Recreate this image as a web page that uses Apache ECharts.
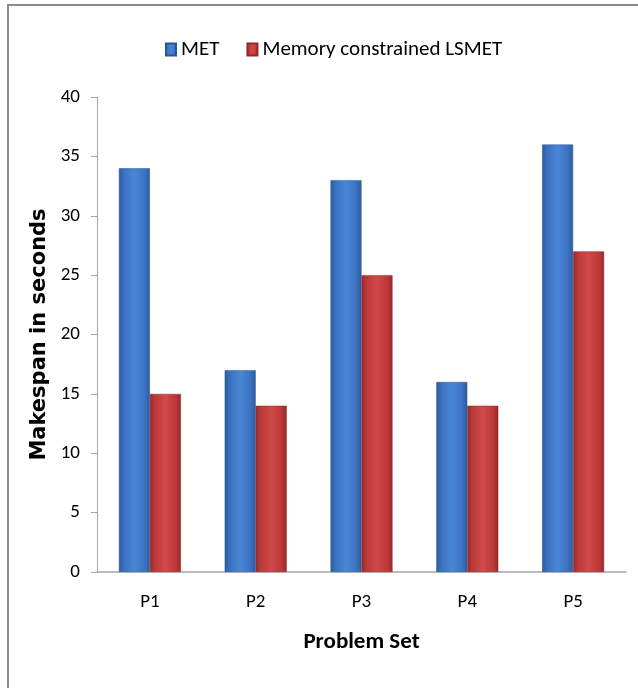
<!DOCTYPE html>
<html>
<head>
<meta charset="utf-8">
<script src="https://cdn.jsdelivr.net/npm/echarts@6/dist/echarts.min.js"></script>
<style>
html,body{margin:0;padding:0;background:#fff;}
#chart{width:638px;height:688px;}
</style>
</head>
<body>
<div id="chart"></div>
<script>
const categories = ['P1', 'P2', 'P3', 'P4', 'P5'];
const metValues = [34, 17, 33, 16, 36];
const lsmetValues = [15, 14, 25, 14, 27];
const seriesNames = ['MET', 'Memory constrained LSMET'];
const yAxisTitle = 'Makespan in seconds';
const xAxisTitle = 'Problem Set';

const FONT = 'Carlito, Lato, sans-serif';

function hGrad(edge, mid, center) {
  return new echarts.graphic.LinearGradient(0, 0, 1, 0, [
    { offset: 0, color: edge },
    { offset: 0.18, color: mid },
    { offset: 0.5, color: center },
    { offset: 0.82, color: mid },
    { offset: 1, color: edge }
  ]);
}

const chart = echarts.init(document.getElementById('chart'), null, { renderer: 'canvas' });
chart.setOption({
  backgroundColor: '#ffffff',
  animation: false,
  graphic: [{
    type: 'rect',
    shape: { x: 8, y: 5, width: 700, height: 700 },
    style: { fill: 'none', stroke: '#8a8a8a', lineWidth: 2 },
    silent: true
  }],
  legend: {
    left: 160,
    top: 34,
    icon: 'rect',
    itemWidth: 10,
    itemHeight: 12,
    itemGap: 27,
    textStyle: { fontFamily: FONT, fontSize: 21, color: '#000' },
    data: seriesNames
  },
  grid: { left: 97, right: 12, top: 97, bottom: 116 },
  xAxis: {
    type: 'category',
    data: categories,
    axisLine: { lineStyle: { color: '#a6a6a6', width: 1.5 } },
    axisTick: { show: false },
    axisLabel: { margin: 21, fontFamily: FONT, fontSize: 19, color: '#000' },
    name: xAxisTitle,
    nameLocation: 'middle',
    nameGap: 59,
    nameTextStyle: { fontFamily: FONT, fontSize: 23, fontWeight: 'bold', color: '#000' }
  },
  yAxis: {
    type: 'value',
    min: 0,
    max: 40,
    interval: 5,
    splitLine: { show: false },
    axisLine: { show: true, lineStyle: { color: '#a6a6a6', width: 1 } },
    axisTick: { show: true, length: 6, lineStyle: { color: '#a6a6a6' } },
    axisLabel: { margin: 17, fontFamily: FONT, fontSize: 19, color: '#000' },
    name: yAxisTitle,
    nameLocation: 'middle',
    nameGap: 41,
    nameRotate: 90,
    nameTextStyle: { fontFamily: '"DejaVu Sans", sans-serif', fontSize: 21, fontWeight: 'bold', color: '#000' }
  },
  series: [
    {
      name: seriesNames[0],
      type: 'bar',
      data: metValues,
      barWidth: 31,
      barGap: '0%',
      itemStyle: {
        color: hGrad('#2c5c9e', '#3b73c2', '#4a86d6'),
        borderColor: '#2a5794',
        borderWidth: 0.5
      }
    },
    {
      name: seriesNames[1],
      type: 'bar',
      data: lsmetValues,
      barWidth: 31,
      barGap: '0%',
      itemStyle: {
        color: hGrad('#962a2a', '#bd3a3a', '#d14848'),
        borderColor: '#8f2828',
        borderWidth: 0.5
      }
    }
  ]
});
</script>
</body>
</html>
